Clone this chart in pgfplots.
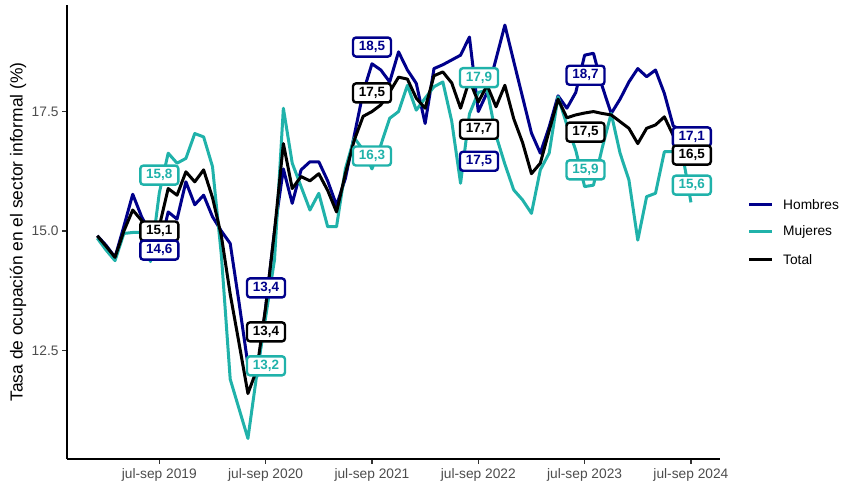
\documentclass[border=0pt]{standalone}
\usepackage{fontspec}
\setmainfont{Liberation Sans}
\usepackage{pgfplots}
\usepackage{pgfplotstable}
\pgfplotsset{compat=1.18}
\definecolor{hombres}{HTML}{00008B}
\definecolor{mujeres}{HTML}{20B2AA}
\definecolor{tickgray}{HTML}{4D4D4D}

\pgfplotstableread{
x h m t
-7 14.90 14.85 14.90
-6 14.70 14.60 14.68
-5 14.45 14.38 14.45
-4 15.10 14.95 15.00
-3 15.77 14.97 15.44
-2 15.30 14.97 15.22
-1 14.95 14.36 14.90
0 14.60 15.80 15.10
1 15.40 16.63 15.89
2 15.25 16.42 15.75
3 16.03 16.52 16.24
4 15.55 17.04 16.03
5 15.75 16.97 16.28
6 15.30 16.35 15.70
7 15.00 14.50 14.90
8 14.74 11.90 13.68
9 13.50 11.28 12.65
10 12.20 10.66 11.60
11 11.95 12.00 12.10
12 13.40 13.20 13.40
13 15.00 14.40 15.00
14 16.30 17.57 16.83
15 15.58 16.42 15.89
16 16.28 15.93 16.14
17 16.45 15.44 16.05
18 16.45 15.79 16.20
19 16.05 15.09 15.85
20 15.54 15.09 15.40
21 16.10 16.30 16.20
22 17.00 16.95 16.90
23 17.90 16.70 17.40
24 18.50 16.30 17.50
25 18.37 16.80 17.64
26 18.12 17.36 17.91
27 18.75 17.50 18.22
28 18.37 18.05 18.18
29 18.09 17.53 17.78
30 17.25 17.78 17.57
31 18.40 18.02 18.25
32 18.48 18.12 18.33
33 18.58 17.30 18.10
34 18.68 16.00 17.57
35 19.06 17.45 18.16
36 17.50 17.90 17.70
37 17.90 17.95 18.05
38 18.60 17.00 17.60
39 19.31 16.40 18.05
40 18.55 15.86 17.35
41 17.80 15.65 16.85
42 17.05 15.37 16.20
43 16.63 16.28 16.42
44 17.18 16.63 17.10
45 17.83 17.81 17.76
46 17.57 17.22 17.37
47 17.90 16.69 17.43
48 18.68 15.93 17.47
49 18.72 15.96 17.50
50 18.02 16.75 17.46
51 17.46 17.46 17.43
52 17.76 16.63 17.29
53 18.12 16.07 17.15
54 18.40 14.81 16.83
55 18.23 15.72 17.15
56 18.37 15.79 17.22
57 17.88 16.66 17.39
58 17.20 16.66 17.00
59 17.10 16.66 16.70
60 17.10 15.60 16.50
}\datatable

\tikzset{lab/.style={draw=#1, text=#1, fill=white, line width=2.4bp, rounded corners=3bp,
  inner sep=0pt, minimum width=38bp, minimum height=19bp,
  font=\fontsize{13.5}{13.5}\selectfont\bfseries}}

\begin{document}
\begin{tikzpicture}
\begin{axis}[
  at={(67bp,26bp)}, anchor=south west,
  scale only axis, width=653bp, height=454bp,
  xmin=-10.42, xmax=63.28, ymin=10.23, ymax=19.73,
  axis x line*=bottom, axis y line*=left,
  axis line style={line width=2bp, -},
  xtick={0,12,24,36,48,60},
  xticklabels={jul-sep 2019,jul-sep 2020,jul-sep 2021,jul-sep 2022,jul-sep 2023,jul-sep 2024},
  ytick={12.5,15,17.5},
  yticklabels={12.5,15.0,17.5},
  /pgf/number format/assume math mode=true,
  tick align=outside, major tick length=5bp,
  tick style={line width=1.2bp, color=black!80},
  ticklabel style={font=\fontsize{13.8}{13.8}\selectfont, color=tickgray},
  xticklabel style={yshift=-1bp},
  ylabel={Tasa de ocupación en el sector informal (\%)},
  every axis y label/.style={at={(axis description cs:-0.075,0.5)}, rotate=90, anchor=center,
    font=\fontsize{17.5}{17.5}\selectfont},
  clip=false,
]
\addplot[hombres, line width=3bp, line join=round] table[x=x,y=h]{\datatable};
\addplot[mujeres, line width=3bp, line join=round] table[x=x,y=m]{\datatable};
\addplot[black, line width=3bp, line join=round] table[x=x,y=t]{\datatable};

\node[lab=mujeres] at (axis cs:0,16.17) {15,8};
\node[lab=black] at (axis cs:0,15.0) {15,1};
\node[lab=hombres] at (axis cs:0,14.60) {14,6};

\node[lab=hombres] at (axis cs:12.04,13.81) {13,4};
\node[lab=black] at (axis cs:12.04,12.89) {13,4};
\node[lab=mujeres] at (axis cs:12.04,12.18) {13,2};

\node[lab=hombres] at (axis cs:24,18.85) {18,5};
\node[lab=black] at (axis cs:24,17.89) {17,5};
\node[lab=mujeres] at (axis cs:24,16.57) {16,3};

\node[lab=mujeres] at (axis cs:36.08,18.21) {17,9};
\node[lab=black] at (axis cs:36.08,17.13) {17,7};
\node[lab=hombres] at (axis cs:36.08,16.46) {17,5};

\node[lab=hombres] at (axis cs:48.1,18.26) {18,7};
\node[lab=black] at (axis cs:48.1,17.07) {17,5};
\node[lab=mujeres] at (axis cs:48.1,16.28) {15,9};

\node[lab=hombres] at (axis cs:60.1,16.97) {17,1};
\node[lab=black] at (axis cs:60.1,16.59) {16,5};
\node[lab=mujeres] at (axis cs:60.1,15.96) {15,6};
\end{axis}
% legend
\begin{scope}[font=\fontsize{13.8}{13.8}\selectfont]
\draw[hombres, line width=3bp] (749bp,280bp) -- (772bp,280bp);
\node[anchor=west, inner sep=0pt, text=black] at (783bp,280bp) {Hombres};
\draw[mujeres, line width=3bp] (749bp,253.3bp) -- (772bp,253.3bp);
\node[anchor=west, inner sep=0pt, text=black] at (783bp,253.3bp) {Mujeres};
\draw[black, line width=3bp] (749bp,225bp) -- (772bp,225bp);
\node[anchor=west, inner sep=0pt, text=black] at (783bp,225bp) {Total};
\end{scope}
\pgfresetboundingbox
\path[use as bounding box] (0,0) rectangle (842bp,485bp);
\end{tikzpicture}
\end{document}
